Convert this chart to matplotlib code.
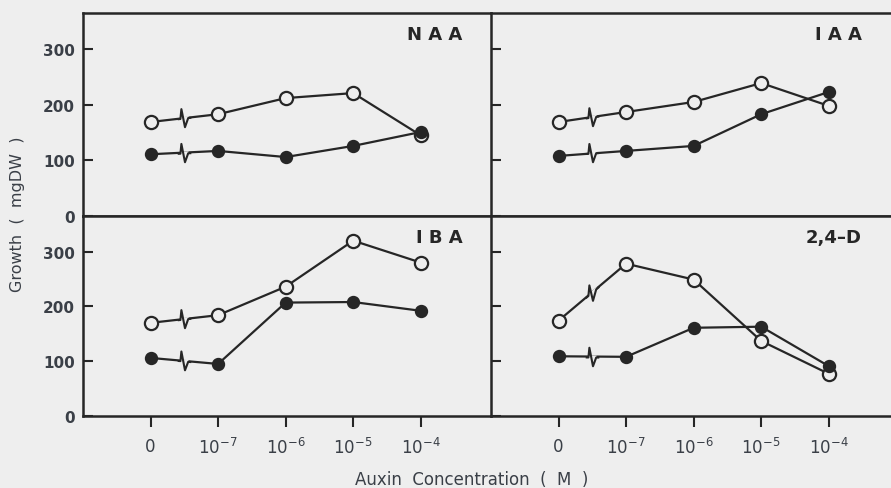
import numpy as np
import matplotlib
matplotlib.use('Agg')
from matplotlib import pyplot as plt
from matplotlib.path import Path
from matplotlib.markers import MarkerStyle
from matplotlib.transforms import Affine2D

# auxin concentrations (categorical positions on the x axis)
concentrations = ['0', r'$\mathregular{10^{-7}}$', r'$\mathregular{10^{-6}}$',
                  r'$\mathregular{10^{-5}}$', r'$\mathregular{10^{-4}}$']
y_ticks = [0, 100, 200, 300]

# growth (mgDW), open and closed symbols
naa_open = [169, 183, 212, 221, 145]
naa_closed = [111, 117, 106, 126, 151]
iaa_open = [169, 187, 205, 239, 198]
iaa_closed = [108, 117, 126, 183, 223]
iba_open = [170, 184, 236, 320, 280]
iba_closed = [106, 95, 207, 208, 192]
d24_open = [174, 278, 249, 137, 77]
d24_closed = [109, 108, 161, 163, 91]

bg = '#eeeeee'
ink = '#262626'
text_col = '#3a3f47'

W, H = 891, 489

# zig-zag glyph for the broken axis between 0 and 10^-7
zig = Path([(-0.7, 0), (-0.42, 0), (-0.32, 1.0), (0.05, -0.9), (0.38, 0), (0.7, 0)])
eraser = Path([(-1, -0.5), (1, -0.5), (1, 0.5), (-1, 0.5), (-1, -0.5)],
              [Path.MOVETO, Path.LINETO, Path.LINETO, Path.LINETO, Path.CLOSEPOLY])


def px_box(x0, y_top, x1, y_bot):
    return [x0 / W, 1 - y_bot / H, (x1 - x0) / W, (y_bot - y_top) / H]


def add_break(ax, xs, ys):
    # spike stays upright, the short tails follow the slope of the segment
    p0 = ax.transData.transform((xs[0], ys[0]))
    p1 = ax.transData.transform((xs[1], ys[1]))
    slope = (p1[1] - p0[1]) / (p1[0] - p0[0])
    mx, my = (xs[0] + xs[1]) / 2., (ys[0] + ys[1]) / 2.
    shear = Affine2D(np.array([[1., 0., 0.], [slope, 1., 0.], [0., 0., 1.]]))
    ax.plot(mx, my, marker=MarkerStyle(eraser, transform=shear), ms=5.8,
            mfc=bg, mec='none', zorder=3)
    ax.plot(mx, my, marker=MarkerStyle(zig, transform=shear), ms=14,
            mfc='none', mec=ink, mew=1.5, zorder=4)


def draw_panel(ax, title, opens, closeds, top, left):
    xs = np.arange(len(concentrations))
    ax.set_facecolor(bg)
    ax.set_xlim(-1.0, 5.04)
    ax.set_ylim(0, 365)
    for ys, filled in ((opens, False), (closeds, True)):
        ax.plot(xs, ys, '-', color=ink, lw=1.6, zorder=2)
        add_break(ax, xs, ys)
        ax.plot(xs, ys, 'o', ms=8 if filled else 9.5, mfc=ink if filled else bg,
                mec=ink, mew=1.6, zorder=5 if filled else 4.5, linestyle='none')

    for side in ('left', 'right', 'top', 'bottom'):
        ax.spines[side].set_color(ink)
        ax.spines[side].set_linewidth(1.8)
    ax.spines['right'].set_visible(False)

    ax.set_yticks(y_ticks)
    ax.tick_params(axis='y', direction='in', length=7, width=1.5, color=ink, pad=6)
    if left:
        ax.set_yticklabels([str(v) for v in y_ticks], fontsize=11, fontweight='bold',
                           color=text_col)
    else:
        ax.tick_params(axis='y', labelleft=False)

    ax.set_xticks(xs)
    if top:
        ax.tick_params(axis='x', bottom=False, labelbottom=False)
    else:
        ax.set_xticklabels(concentrations, fontsize=12, color=text_col)
        ax.tick_params(axis='x', direction='out', length=8, width=1.5, color=ink, pad=7)

    ax.text(0.93 if left else 0.908, 0.895, title, transform=ax.transAxes,
            ha='right', va='center', fontsize=13, fontweight='bold', color=ink)


fig = plt.figure(figsize=(W / 100, H / 100), dpi=100, facecolor=bg)

ax_naa = fig.add_axes(px_box(83, 14, 491, 217))
ax_iaa = fig.add_axes(px_box(491, 14, 899, 217))
ax_iba = fig.add_axes(px_box(83, 217, 491, 417))
ax_d24 = fig.add_axes(px_box(491, 217, 899, 417))

draw_panel(ax_naa, 'N A A', naa_open, naa_closed, top=True, left=True)
draw_panel(ax_iaa, 'I A A', iaa_open, iaa_closed, top=True, left=False)
draw_panel(ax_iba, 'I B A', iba_open, iba_closed, top=False, left=True)
draw_panel(ax_d24, '2,4\u2013D', d24_open, d24_closed, top=False, left=False)

fig.text(18 / W, 1 - 214 / H, 'Growth  (  mgDW  )', rotation=90, ha='center', va='center',
         fontsize=11.5, color=text_col)
fig.text(472 / W, 1 - 480 / H, 'Auxin  Concentration  (  M  )', ha='center', va='center',
         fontsize=12, color=text_col)

fig.savefig('out.png', dpi=100, facecolor=bg)
